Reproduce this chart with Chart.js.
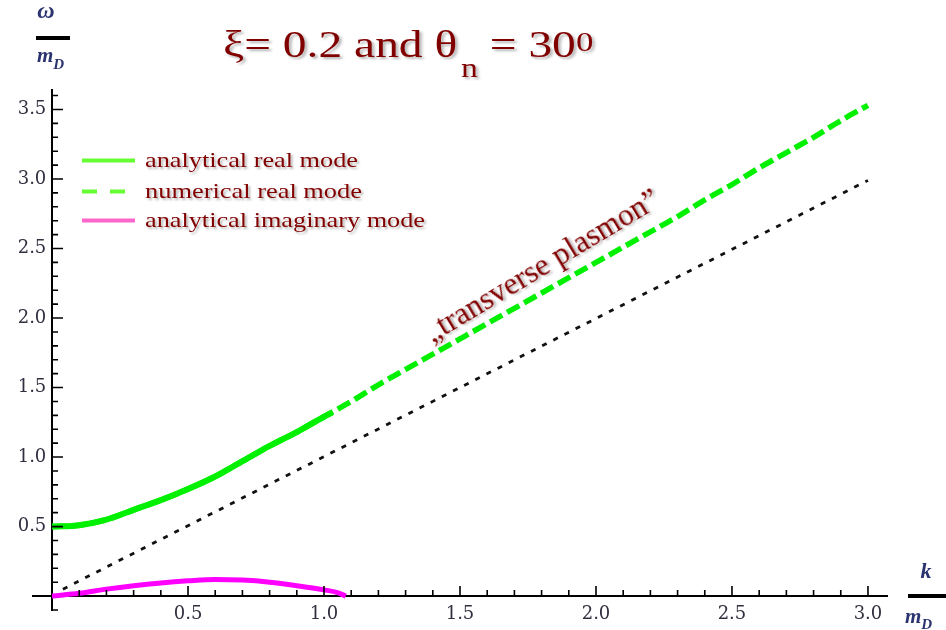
<!DOCTYPE html>
<html>
<head>
<meta charset="utf-8">
<script src="https://cdn.jsdelivr.net/npm/chart.js@4.4.1/dist/chart.umd.min.js"></script>
<style>
  body { margin: 0; background: #fff; }
  #wrap { position: relative; width: 946px; height: 630px; background: #fff; }
  #plot { position: absolute; left: 0; top: 0; }
  #ov { position: absolute; left: 0; top: 0; pointer-events: none; }
  #ov text { white-space: pre; }
</style>
</head>
<body>
<div id="wrap">
  <canvas id="plot" width="946" height="630"></canvas>
  <svg id="ov" width="946" height="630"></svg>
</div>
<script>
// k / m_D  and  omega / m_D
const kAnalytic = [0, 0.1, 0.2, 0.3, 0.4, 0.5, 0.6, 0.7, 0.8, 0.9, 1.0, 1.03];
const omegaAnalytic = [0.50, 0.51, 0.55, 0.62, 0.69, 0.77, 0.86, 0.97, 1.08, 1.18, 1.29, 1.32];

const kNumeric = [0, 0.1, 0.2, 0.3, 0.4, 0.5, 0.6, 0.7, 0.8, 0.9, 1.0,
  1.1, 1.2, 1.3, 1.4, 1.5, 1.6, 1.7, 1.8, 1.9, 2.0,
  2.1, 2.2, 2.3, 2.4, 2.5, 2.6, 2.7, 2.8, 2.9, 3.0];
const omegaNumeric = [0.50, 0.51, 0.55, 0.62, 0.69, 0.77, 0.86, 0.97, 1.08, 1.18, 1.29,
  1.40, 1.52, 1.63, 1.74, 1.85, 1.96, 2.07, 2.18, 2.29, 2.40,
  2.51, 2.62, 2.73, 2.85, 2.96, 3.08, 3.19, 3.30, 3.42, 3.53];

const kImag = [0, 0.1, 0.2, 0.3, 0.4, 0.5, 0.6, 0.7, 0.8, 0.9, 1.0, 1.05, 1.08];
const omegaImag = [0.0, 0.02, 0.05, 0.075, 0.095, 0.11, 0.12, 0.115, 0.10, 0.075, 0.045, 0.025, 0.0];

// light cone omega = k (dotted)
const kLight = [0.04, 3.0];
const omegaLight = [0.05, 2.99];

const seriesLabels = ["analytical real mode", "numerical real mode", "analytical imaginary mode"];

const xTickValues = [0.5, 1.0, 1.5, 2.0, 2.5, 3.0];
const xTickLabels = ["0.5", "1.0", "1.5", "2.0", "2.5", "3.0"];
const yTickValues = [0.5, 1.0, 1.5, 2.0, 2.5, 3.0, 3.5];
const yTickLabels = ["0.5", "1.0", "1.5", "2.0", "2.5", "3.0", "3.5"];

const SERIF = "'Liberation Serif', 'Times New Roman', Times, serif";

function pts(xs, ys) {
  return xs.map((x, i) => ({ x: x, y: ys[i] }));
}

// minor ticks every 0.1
function tenths(from, to) {
  const out = [];
  for (let i = from; i <= to; i++) out.push(i / 10);
  return out;
}

function labelFor(v, values, labels) {
  const i = values.findIndex((t) => Math.abs(t - v) < 1e-6);
  return i >= 0 ? labels[i] + " " : "";
}

const tickFont = { family: "DejaVu Serif", size: 18 };
const tickColor = "#303040";

// inward Mathematica-style tick marks
const tickMarks = {
  id: "tickMarks",
  afterDraw(chart) {
    const ctx = chart.ctx;
    const xs = chart.scales.x;
    const ys = chart.scales.y;
    const x0 = xs.getPixelForValue(0);
    const y0 = ys.getPixelForValue(0);
    ctx.save();
    ctx.strokeStyle = "#000";
    ctx.lineWidth = 1.6;
    ctx.beginPath();
    xs.ticks.forEach((t) => {
      if (Math.abs(t.value) < 1e-6) return;
      const p = xs.getPixelForValue(t.value);
      const major = xTickValues.some((v) => Math.abs(v - t.value) < 1e-6);
      ctx.moveTo(p, y0);
      ctx.lineTo(p, y0 - (major ? 10 : 6));
    });
    ys.ticks.forEach((t) => {
      if (Math.abs(t.value) < 1e-6) return;
      const p = ys.getPixelForValue(t.value);
      const major = yTickValues.some((v) => Math.abs(v - t.value) < 1e-6);
      ctx.moveTo(x0, p);
      ctx.lineTo(x0 + (major ? 11 : 6), p);
    });
    ctx.stroke();
    ctx.restore();
  },
};

new Chart(document.getElementById("plot").getContext("2d"), {
  type: "scatter",
  data: {
    datasets: [
      {
        label: seriesLabels[0],
        data: pts(kAnalytic, omegaAnalytic),
        showLine: true,
        borderColor: "#00f000",
        borderWidth: 6,
        pointRadius: 0,
        cubicInterpolationMode: "monotone",
      },
      {
        label: seriesLabels[1],
        data: pts(kNumeric, omegaNumeric),
        showLine: true,
        borderColor: "#00f000",
        borderWidth: 5.5,
        borderDash: [14, 5.5],
        pointRadius: 0,
        cubicInterpolationMode: "monotone",
      },
      {
        label: seriesLabels[2],
        data: pts(kImag, omegaImag),
        showLine: true,
        borderColor: "#ff00ff",
        borderWidth: 5,
        pointRadius: 0,
        cubicInterpolationMode: "monotone",
      },
      {
        label: "light cone",
        data: pts(kLight, omegaLight),
        showLine: true,
        borderColor: "#111",
        borderWidth: 2.8,
        borderDash: [5, 7.5],
        pointRadius: 0,
      },
    ],
  },
  options: {
    responsive: false,
    animation: false,
    layout: { padding: { left: 33, right: 59, top: 90, bottom: 20 } },
    plugins: {
      legend: { display: false },
      tooltip: { enabled: false },
    },
    scales: {
      x: {
        type: "linear",
        min: -0.07,
        max: 3.07,
        position: { y: 0 },
        grid: { drawOnChartArea: false, drawTicks: false },
        border: { display: true, color: "#000", width: 2 },
        afterBuildTicks: (s) => {
          s.ticks = tenths(0, 30).map((v) => ({ value: v }));
        },
        ticks: {
          autoSkip: false,
          maxRotation: 0,
          padding: 7,
          font: tickFont,
          color: tickColor,
          callback: (v) => labelFor(v, xTickValues, xTickLabels).trim(),
        },
      },
      y: {
        type: "linear",
        min: -0.1,
        max: 3.64,
        position: { x: 0 },
        grid: { drawOnChartArea: false, drawTicks: false },
        border: { display: true, color: "#000", width: 2 },
        afterBuildTicks: (s) => {
          s.ticks = tenths(-1, 36).map((v) => ({ value: v }));
        },
        ticks: {
          autoSkip: false,
          font: tickFont,
          color: tickColor,
          callback: (v) => labelFor(v, yTickValues, yTickLabels),
        },
      },
    },
  },
  plugins: [tickMarks],
});

// title, legend, annotation and axis labels
const legendColors = ["#66ff33", "#66ff33", "#ff66cc"];
const legendRows = [167, 198, 227];
const legendWidths = [213, 217, 280];

let legendSvg = "";
seriesLabels.forEach((lab, i) => {
  const ly = legendRows[i] - 6.5;
  const dash = i === 1 ? ' stroke-dasharray="15 13"' : "";
  const x2 = i === 1 ? 125 : 135;
  legendSvg += `<line x1="82" y1="${ly}" x2="${x2}" y2="${ly}" stroke="${legendColors[i]}" stroke-width="4"${dash}/>`;
  legendSvg += `<text x="145" y="${legendRows[i]}" font-family="${SERIF}" font-size="22" fill="#800000" filter="url(#sh)" textLength="${legendWidths[i]}" lengthAdjust="spacingAndGlyphs">${lab}</text>`;
});

document.getElementById("ov").innerHTML = `
<defs>
  <filter id="sh" x="-5%" y="-20%" width="115%" height="160%">
    <feDropShadow dx="2" dy="2" stdDeviation="1.2" flood-color="#000" flood-opacity="0.3"/>
  </filter>
</defs>
<g transform="translate(223,57) scale(1.25,1)" filter="url(#sh)">
  <text x="0" y="0" font-family="${SERIF}" font-size="38" fill="#800000">ξ= 0.2 and θ<tspan font-size="27" dx="3" dy="20">n</tspan><tspan font-size="38" dy="-20"> = 30</tspan><tspan font-size="28" dy="-6">0</tspan></text>
</g>
${legendSvg}
<text transform="translate(432,343) rotate(-31)" font-family="${SERIF}" font-size="31" fill="#800000" filter="url(#sh)" textLength="268" lengthAdjust="spacingAndGlyphs">„transverse plasmon”</text>
<text x="46" y="18" text-anchor="middle" font-family="${SERIF}" font-size="24" font-style="italic" font-weight="bold" fill="#2c3470">ω</text>
<rect x="36" y="36" width="34" height="4" fill="#000"/>
<text x="37" y="62" font-family="${SERIF}" font-size="21" font-style="italic" font-weight="bold" fill="#2c3470">m<tspan font-size="15" dy="7">D</tspan></text>
<text x="926" y="578" text-anchor="middle" font-family="${SERIF}" font-size="22" font-style="italic" font-weight="bold" fill="#2c3470">k</text>
<rect x="908" y="594" width="38" height="4" fill="#000"/>
<text x="905" y="623" font-family="${SERIF}" font-size="21" font-style="italic" font-weight="bold" fill="#2c3470">m<tspan font-size="15" dy="6">D</tspan></text>
`;
</script>
</body>
</html>
